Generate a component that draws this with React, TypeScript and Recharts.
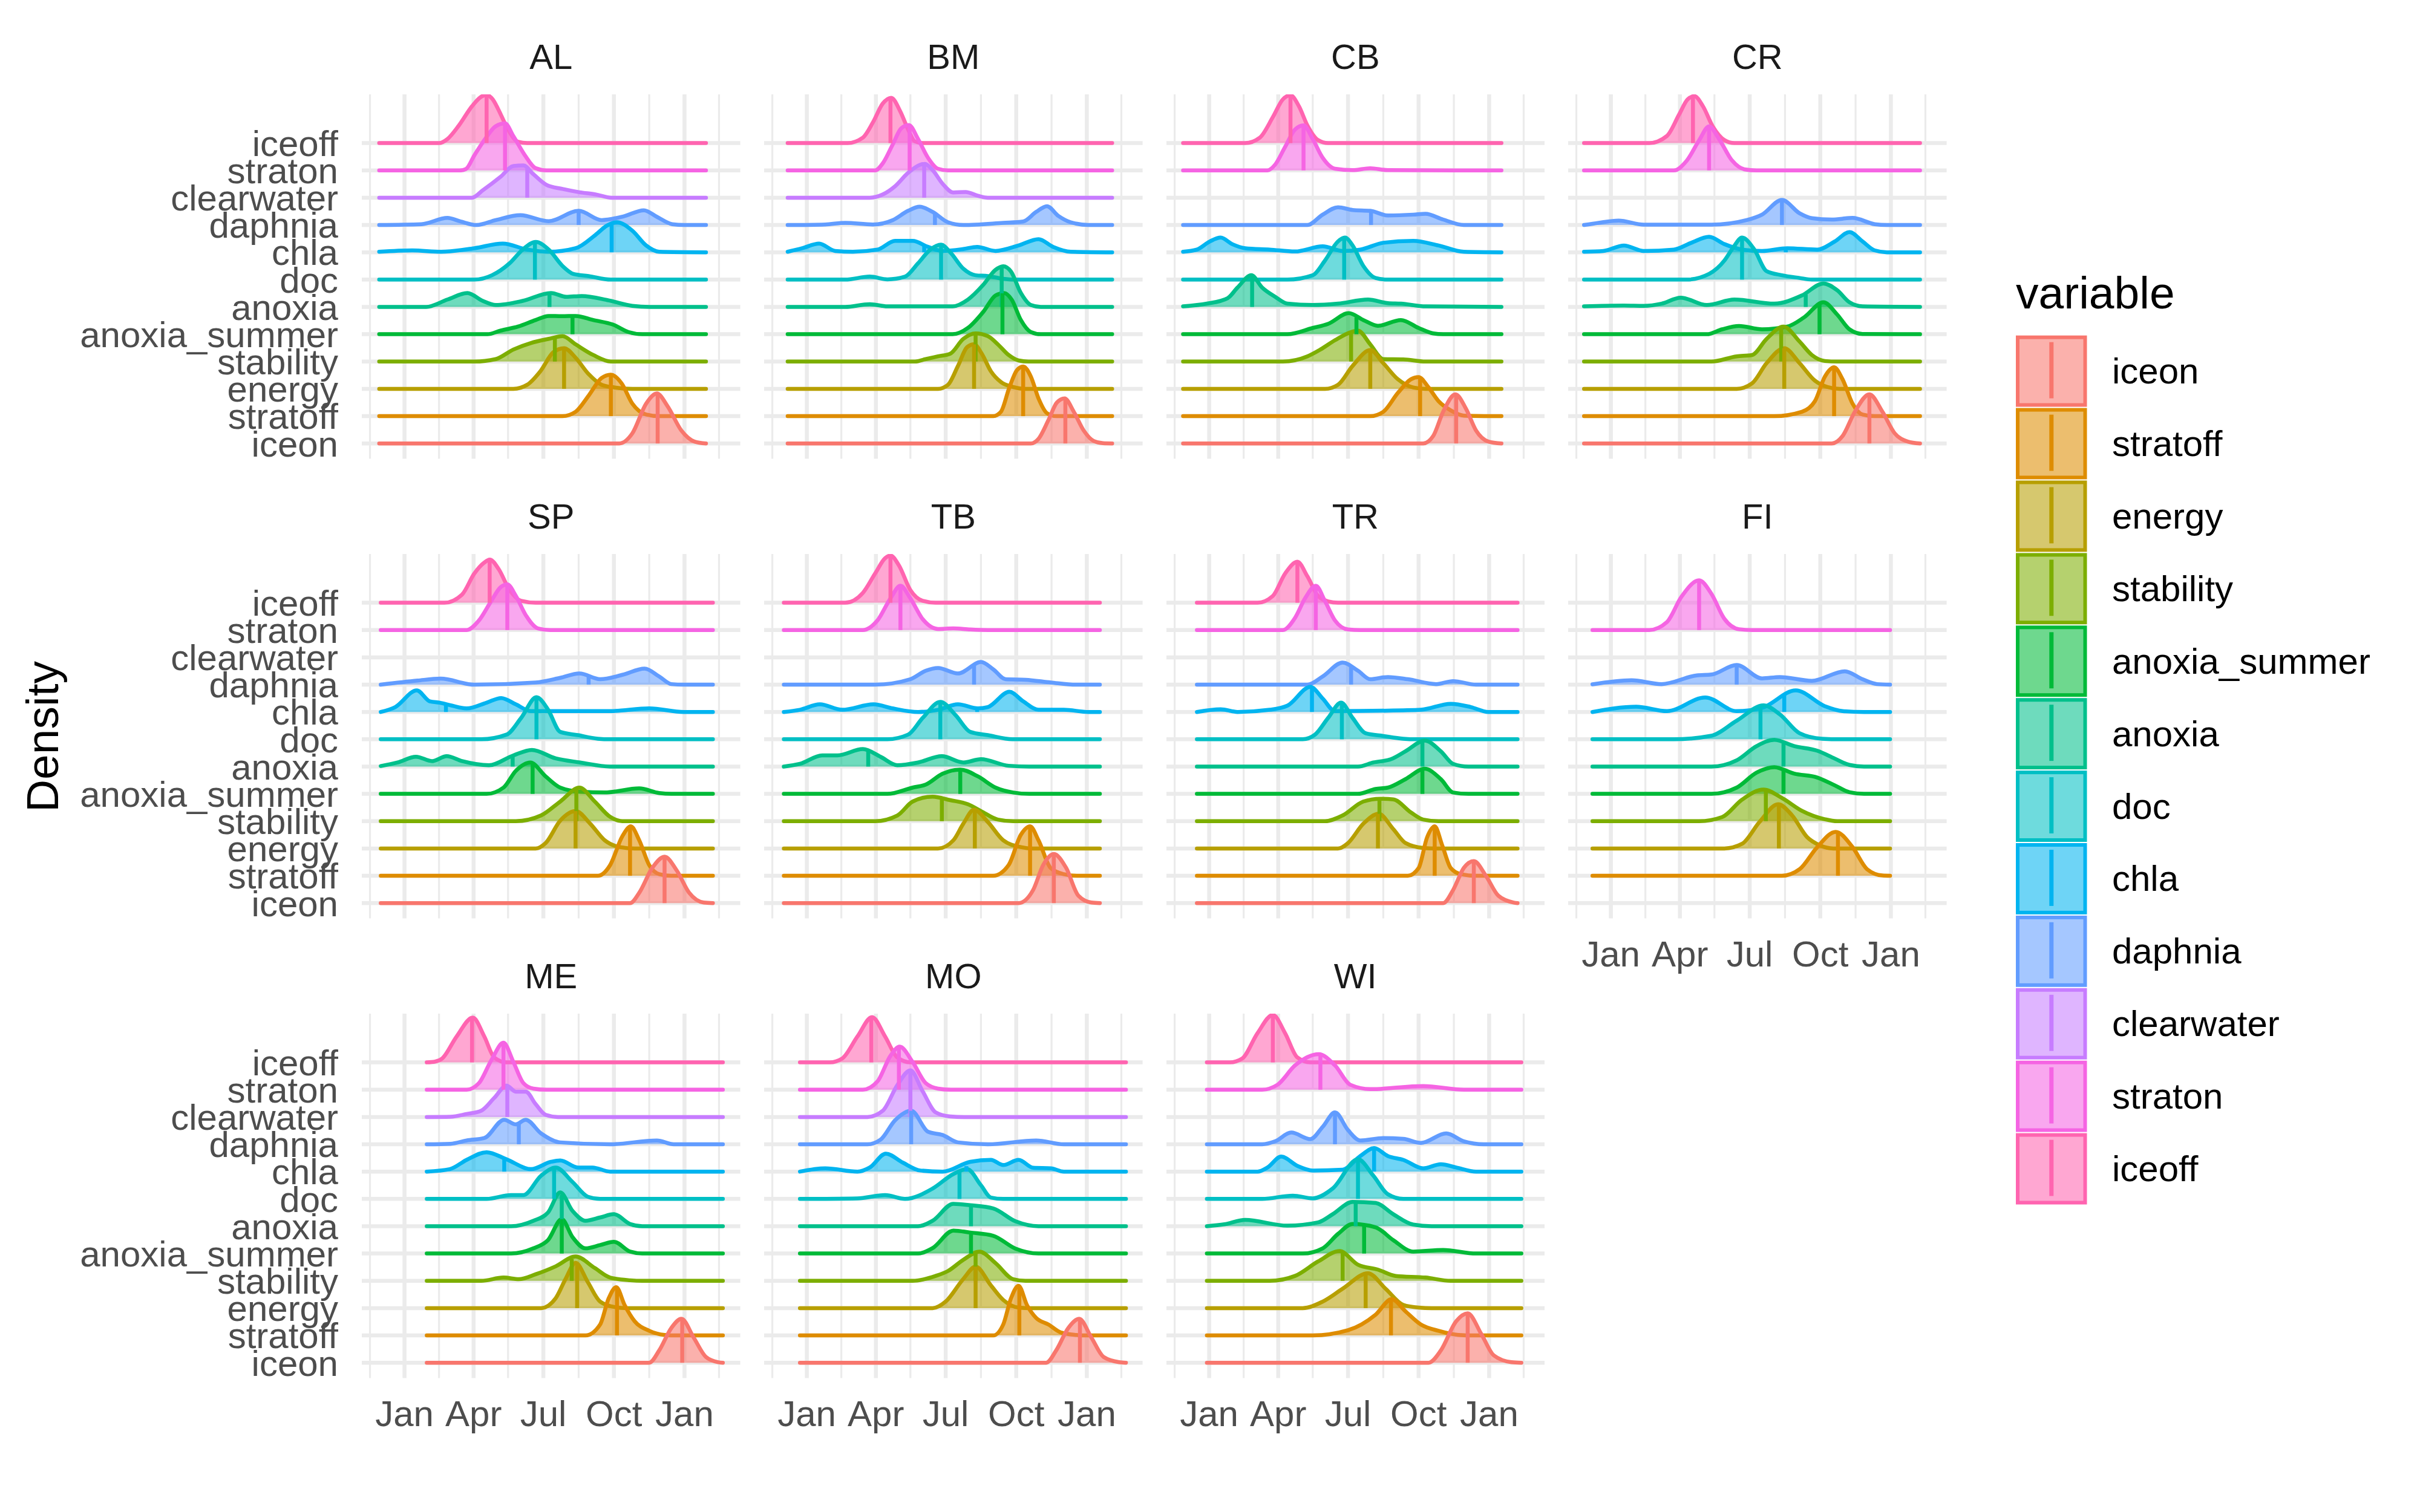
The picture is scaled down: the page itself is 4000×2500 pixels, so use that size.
import { Area, CartesianGrid, ComposedChart, ReferenceLine, XAxis, YAxis } from 'recharts';

type Pts = number[][];
type Ridges = Record<string, Pts>;
type Medians = Record<string, number[]>;

const FONT = '"Liberation Sans", Arial, Helvetica, sans-serif';

// bottom to top, same order as the legend
const VARIABLES = ['iceon', 'stratoff', 'energy', 'stability', 'anoxia_summer', 'anoxia', 'doc', 'chla', 'daphnia', 'clearwater', 'straton', 'iceoff'];
const COLORS = ['#F8766D', '#DE8C00', '#B79F00', '#7CAE00', '#00BA38', '#00C08B', '#00BFC4', '#00B4F0', '#619CFF', '#C77CFF', '#F564E3', '#FF64B0'];
const MONTH_TICKS = [0, 90, 181, 273, 365];
const MONTH_LABELS = ['Jan', 'Apr', 'Jul', 'Oct', 'Jan'];
const MINOR_TICKS = [-45, 45, 135, 227, 319, 410];
const ROW_TICKS = [1, 2, 3, 4, 5, 6, 7, 8, 9, 10, 11, 12];

// ridge points: [day of year, density height in row units]
const AL: Ridges = {
  iceoff: [[-33, 0], [45, 0], [56, 0.15], [71, 0.65], [88, 1.35], [100, 1.7], [107, 1.76], [115, 1.6], [122, 1.25], [134, 0.55], [148, 0.05], [160, 0], [393, 0]],
  straton: [[-33, 0], [72, 0], [80, 0.05], [91, 0.55], [105, 1.15], [119, 1.62], [131, 1.72], [142, 1.25], [157, 0.55], [171, 0.08], [185, 0], [393, 0]],
  clearwater: [[-33, 0], [88, 0], [102, 0.27], [125, 0.76], [142, 1.16], [155, 1.18], [168, 0.86], [185, 0.47], [206, 0.32], [228, 0.2], [249, 0.12], [270, 0], [393, 0]],
  daphnia: [[-33, 0], [22, 0.03], [56, 0.26], [73, 0.13], [94, 0], [119, 0.18], [151, 0.36], [188, 0.14], [227, 0.52], [257, 0.18], [286, 0.32], [312, 0.54], [329, 0.3], [349, 0.03], [365, 0], [393, 0]],
  chla: [[-33, 0.02], [10, 0.07], [48, 0.02], [91, 0.15], [128, 0.32], [160, 0.1], [188, 0.02], [223, 0.15], [249, 0.64], [264, 0.98], [277, 1.1], [297, 0.79], [315, 0.25], [332, 0.02], [393, 0]],
  doc: [[-33, 0], [91, 0], [114, 0.16], [137, 0.6], [154, 1.1], [171, 1.38], [188, 1.1], [206, 0.5], [220, 0.21], [240, 0.13], [269, 0], [393, 0]],
  anoxia: [[-33, 0], [28, 0], [56, 0.27], [82, 0.51], [102, 0.22], [119, 0.07], [154, 0.22], [191, 0.51], [211, 0.37], [231, 0.4], [266, 0.24], [297, 0.04], [320, 0], [393, 0]],
  anoxia_summer: [[-33, 0], [108, 0], [125, 0.13], [148, 0.28], [171, 0.52], [188, 0.67], [205, 0.66], [223, 0.67], [246, 0.52], [272, 0.35], [292, 0.08], [310, 0], [393, 0]],
  stability: [[-33, 0], [91, 0], [119, 0.09], [142, 0.44], [165, 0.68], [188, 0.83], [206, 0.93], [223, 0.63], [246, 0.24], [269, 0], [393, 0]],
  energy: [[-33, 0], [142, 0], [160, 0.15], [177, 0.64], [194, 1.34], [208, 1.49], [223, 1.14], [240, 0.54], [257, 0.15], [274, 0.05], [297, 0], [393, 0]],
  stratoff: [[-33, 0], [206, 0], [223, 0.16], [240, 0.75], [257, 1.4], [269, 1.52], [283, 1.2], [297, 0.46], [315, 0.06], [332, 0], [393, 0]],
  iceon: [[-33, 0], [280, 0], [297, 0.37], [315, 1.46], [329, 1.83], [343, 1.36], [361, 0.47], [378, 0.07], [393, 0]],
};
const AL_MED: Medians = {
  iceoff: [107, 1.76], straton: [131, 1.72], clearwater: [160, 1.06], daphnia: [227, 0.52], chla: [270, 1.05], doc: [170, 1.37],
  anoxia: [189, 0.5], anoxia_summer: [219, 0.67], stability: [196, 0.88], energy: [208, 1.49], stratoff: [269, 1.52], iceon: [330, 1.82],
};

const BM: Ridges = {
  iceoff: [[-25, 0], [53, 0], [73, 0.2], [86, 0.75], [99, 1.45], [110, 1.66], [122, 1.15], [132, 0.5], [141, 0.06], [151, 0], [398, 0]],
  straton: [[-25, 0], [89, 0], [99, 0.26], [112, 0.95], [123, 1.54], [133, 1.66], [145, 1.15], [158, 0.46], [171, 0.06], [184, 0], [398, 0]],
  clearwater: [[-25, 0], [82, 0], [99, 0.12], [115, 0.42], [132, 0.91], [148, 1.21], [154, 1.24], [164, 1.01], [177, 0.51], [191, 0.19], [207, 0.21], [223, 0.07], [236, 0], [398, 0]],
  daphnia: [[-25, 0], [24, 0.02], [50, 0.08], [86, 0.02], [112, 0.18], [132, 0.52], [147, 0.67], [164, 0.48], [184, 0.1], [204, 0], [256, 0.08], [282, 0.13], [299, 0.48], [313, 0.69], [328, 0.33], [344, 0.1], [367, 0], [398, 0]],
  chla: [[-25, 0.02], [-6, 0.15], [16, 0.32], [37, 0.05], [60, 0.02], [92, 0.1], [115, 0.42], [138, 0.42], [158, 0.2], [177, 0.05], [204, 0.12], [222, 0.2], [246, 0.05], [276, 0.25], [302, 0.48], [321, 0.2], [344, 0.02], [398, 0]],
  doc: [[-25, 0], [50, 0], [82, 0.11], [105, 0.01], [128, 0.11], [145, 0.6], [161, 1.1], [175, 1.28], [187, 1.0], [204, 0.4], [220, 0.16], [236, 0.13], [256, 0.03], [270, 0], [398, 0]],
  anoxia: [[-25, 0], [50, 0], [82, 0.1], [105, 0.02], [190, 0.02], [210, 0.27], [230, 0.81], [246, 1.36], [256, 1.49], [266, 1.3], [279, 0.51], [292, 0.07], [305, 0], [398, 0]],
  anoxia_summer: [[-25, 0], [190, 0], [210, 0.23], [230, 0.82], [246, 1.42], [257, 1.51], [267, 1.27], [279, 0.52], [292, 0.08], [305, 0], [398, 0]],
  stability: [[-25, 0], [141, 0], [155, 0.09], [171, 0.19], [187, 0.29], [204, 0.83], [220, 1.03], [236, 0.93], [249, 0.63], [263, 0.24], [276, 0.04], [289, 0], [398, 0]],
  energy: [[-25, 0], [171, 0], [184, 0.15], [197, 0.84], [209, 1.53], [218, 1.63], [228, 1.29], [240, 0.64], [253, 0.25], [269, 0.07], [285, 0], [398, 0]],
  stratoff: [[-25, 0], [243, 0], [253, 0.16], [264, 1.05], [274, 1.69], [282, 1.82], [292, 1.45], [302, 0.65], [313, 0.11], [325, 0], [398, 0]],
  iceon: [[-25, 0], [292, 0], [302, 0.17], [315, 0.86], [326, 1.5], [336, 1.65], [348, 1.16], [361, 0.47], [374, 0.09], [386, 0.01], [398, 0]],
};
const BM_MED: Medians = {
  iceoff: [109, 1.66], straton: [134, 1.65], clearwater: [153, 1.24], daphnia: [167, 0.42], chla: [153, 0.25], doc: [175, 1.28],
  anoxia: [254, 1.47], anoxia_summer: [255, 1.5], stability: [220, 1.03], energy: [218, 1.63], stratoff: [282, 1.82], iceon: [337, 1.64],
};

const CB: Ridges = {
  iceoff: [[-34, 0], [47, 0], [66, 0.2], [83, 0.95], [96, 1.6], [106, 1.75], [117, 1.35], [128, 0.65], [142, 0.11], [155, 0], [381, 0]],
  straton: [[-34, 0], [76, 0], [86, 0.21], [99, 0.86], [112, 1.5], [123, 1.65], [135, 1.15], [148, 0.46], [164, 0.06], [187, 0.01], [210, 0.08], [233, 0.01], [381, 0]],
  daphnia: [[-34, 0], [128, 0], [148, 0.38], [168, 0.65], [187, 0.55], [210, 0.52], [233, 0.35], [266, 0.38], [282, 0.41], [305, 0.2], [332, 0], [381, 0]],
  chla: [[-34, 0.02], [-16, 0.1], [1, 0.4], [15, 0.54], [30, 0.3], [47, 0.15], [79, 0.1], [112, 0.03], [148, 0.22], [174, 0.05], [197, 0.1], [227, 0.35], [266, 0.42], [299, 0.25], [332, 0.02], [381, 0]],
  doc: [[-34, 0], [102, 0], [135, 0.16], [151, 0.7], [168, 1.4], [177, 1.54], [187, 1.25], [201, 0.5], [217, 0.06], [233, 0], [381, 0]],
  anoxia: [[-34, 0.02], [-3, 0.12], [24, 0.32], [37, 0.71], [55, 1.16], [69, 0.71], [86, 0.37], [102, 0.12], [135, 0.07], [168, 0.12], [207, 0.27], [233, 0.14], [250, 0.12], [282, 0.02], [381, 0]],
  anoxia_summer: [[-34, 0], [102, 0], [135, 0.23], [155, 0.38], [182, 0.77], [201, 0.52], [220, 0.31], [250, 0.52], [273, 0.23], [292, 0.03], [305, 0], [381, 0]],
  stability: [[-34, 0], [96, 0], [128, 0.19], [145, 0.44], [164, 0.78], [185, 1.08], [194, 1.13], [210, 0.63], [227, 0.09], [253, 0.08], [282, 0], [381, 0]],
  energy: [[-34, 0], [151, 0], [168, 0.15], [187, 0.84], [210, 1.42], [227, 0.94], [246, 0.35], [266, 0.05], [282, 0], [381, 0]],
  stratoff: [[-34, 0], [210, 0], [227, 0.16], [246, 0.85], [263, 1.35], [273, 1.43], [286, 1.05], [299, 0.55], [315, 0.21], [332, 0.02], [381, 0]],
  iceon: [[-34, 0], [279, 0], [292, 0.27], [305, 1.16], [321, 1.8], [335, 1.26], [348, 0.47], [364, 0.07], [381, 0]],
};
const CB_MED: Medians = {
  iceoff: [106, 1.75], straton: [123, 1.65], daphnia: [211, 0.5], chla: [175, 0.05], doc: [176, 1.53], anoxia: [56, 1.15],
  anoxia_summer: [192, 0.62], stability: [185, 1.08], energy: [210, 1.42], stratoff: [275, 1.4], iceon: [322, 1.79],
};

const CR: Ridges = {
  iceoff: [[-35, 0], [50, 0], [73, 0.26], [89, 1.05], [100, 1.6], [109, 1.72], [120, 1.35], [133, 0.6], [148, 0.11], [161, 0], [403, 0]],
  straton: [[-35, 0], [82, 0], [99, 0.36], [115, 1.1], [128, 1.61], [141, 1.15], [158, 0.36], [174, 0.04], [190, 0], [403, 0]],
  daphnia: [[-35, 0], [-16, 0.08], [10, 0.16], [43, 0.01], [131, 0.01], [177, 0.18], [197, 0.38], [223, 0.92], [246, 0.43], [262, 0.25], [288, 0.2], [315, 0.26], [344, 0.03], [360, 0], [403, 0]],
  chla: [[-35, 0.02], [-10, 0.05], [17, 0.25], [43, 0.05], [82, 0.1], [105, 0.35], [128, 0.57], [148, 0.3], [171, 0.1], [197, 0.05], [230, 0.15], [269, 0.1], [292, 0.4], [311, 0.74], [328, 0.4], [344, 0.07], [360, 0], [403, 0]],
  doc: [[-35, 0], [99, 0], [128, 0.21], [148, 0.7], [160, 1.2], [171, 1.54], [187, 1.1], [203, 0.31], [223, 0.16], [246, 0.06], [262, 0], [403, 0]],
  anoxia: [[-35, 0.02], [17, 0.05], [43, 0.04], [66, 0.12], [91, 0.34], [125, 0.07], [161, 0.27], [213, 0.12], [249, 0.42], [277, 0.86], [295, 0.61], [311, 0.17], [328, 0.02], [403, 0]],
  anoxia_summer: [[-35, 0], [125, 0], [145, 0.18], [167, 0.3], [197, 0.18], [230, 0.28], [252, 0.62], [277, 1.17], [295, 0.72], [311, 0.18], [328, 0.01], [403, 0]],
  stability: [[-35, 0], [131, 0], [164, 0.19], [184, 0.24], [203, 0.83], [225, 1.28], [246, 0.73], [262, 0.24], [279, 0.02], [295, 0], [403, 0]],
  energy: [[-35, 0], [164, 0], [184, 0.2], [203, 0.94], [226, 1.49], [246, 0.94], [266, 0.3], [282, 0.07], [298, 0], [403, 0]],
  stratoff: [[-35, 0], [213, 0], [249, 0.16], [266, 0.55], [279, 1.45], [291, 1.79], [302, 1.35], [315, 0.46], [328, 0.06], [344, 0], [403, 0]],
  iceon: [[-35, 0], [288, 0], [302, 0.27], [318, 1.16], [337, 1.8], [354, 1.16], [370, 0.37], [387, 0.07], [403, 0]],
};
const CR_MED: Medians = {
  iceoff: [107, 1.7], straton: [128, 1.61], daphnia: [223, 0.92], chla: [228, 0.15], doc: [171, 1.54], anoxia: [254, 0.46],
  anoxia_summer: [272, 1.1], stability: [222, 1.26], energy: [226, 1.49], stratoff: [291, 1.79], iceon: [337, 1.8],
};

const SP: Ridges = {
  iceoff: [[-31, 0], [52, 0], [75, 0.3], [91, 1.07], [104, 1.47], [111, 1.58], [123, 1.22], [136, 0.51], [152, 0.07], [171, 0], [402, 0]],
  straton: [[-31, 0], [81, 0], [97, 0.35], [113, 1.06], [125, 1.56], [134, 1.67], [145, 1.26], [158, 0.55], [174, 0.06], [190, 0], [402, 0]],
  daphnia: [[-31, 0], [17, 0.15], [47, 0.22], [91, 0], [171, 0.08], [203, 0.25], [228, 0.41], [255, 0.2], [284, 0.36], [313, 0.59], [332, 0.3], [348, 0.02], [364, 0], [402, 0]],
  chla: [[-31, 0], [-12, 0.18], [16, 0.79], [33, 0.39], [46, 0.34], [62, 0.23], [81, 0.13], [107, 0.34], [126, 0.51], [145, 0.28], [165, 0.03], [268, 0.03], [319, 0.13], [364, 0], [402, 0]],
  doc: [[-31, 0], [100, 0], [133, 0.17], [152, 0.78], [172, 1.54], [187, 1.09], [203, 0.27], [226, 0.15], [252, 0.02], [268, 0], [402, 0]],
  anoxia: [[-31, 0.02], [-9, 0.15], [15, 0.36], [36, 0.2], [55, 0.38], [75, 0.2], [110, 0.05], [142, 0.41], [166, 0.61], [197, 0.3], [229, 0.15], [268, 0], [402, 0]],
  anoxia_summer: [[-31, 0], [107, 0], [129, 0.23], [145, 0.84], [164, 1.15], [184, 0.64], [203, 0.23], [229, 0.08], [261, 0.05], [306, 0.2], [332, 0.03], [348, 0], [402, 0]],
  stability: [[-31, 0], [145, 0], [178, 0.21], [203, 0.72], [228, 1.23], [248, 0.72], [268, 0.16], [284, 0], [402, 0]],
  energy: [[-31, 0], [171, 0], [184, 0.2], [203, 1.02], [223, 1.37], [242, 0.91], [261, 0.3], [281, 0.05], [300, 0], [402, 0]],
  stratoff: [[-31, 0], [252, 0], [268, 0.39], [284, 1.45], [295, 1.81], [306, 1.3], [319, 0.39], [332, 0.06], [348, 0], [402, 0]],
  iceon: [[-31, 0], [294, 0], [306, 0.38], [323, 1.29], [339, 1.7], [355, 1.19], [371, 0.38], [390, 0.02], [402, 0]],
};
const SP_MED: Medians = {
  iceoff: [111, 1.58], straton: [134, 1.67], daphnia: [240, 0.3], chla: [54, 0.3], doc: [172, 1.54], anoxia: [141, 0.4],
  anoxia_summer: [167, 1.12], stability: [224, 1.2], energy: [223, 1.37], stratoff: [294, 1.8], iceon: [339, 1.7],
};

const TB: Ridges = {
  iceoff: [[-30, 0], [50, 0], [73, 0.36], [89, 1.07], [102, 1.63], [109, 1.73], [120, 1.37], [135, 0.46], [151, 0.07], [168, 0], [382, 0]],
  straton: [[-30, 0], [73, 0], [92, 0.35], [109, 1.16], [122, 1.62], [135, 1.16], [151, 0.4], [171, 0.04], [191, 0.06], [213, 0.02], [236, 0], [382, 0]],
  daphnia: [[-30, 0], [89, 0], [135, 0.2], [155, 0.51], [171, 0.61], [197, 0.41], [227, 0.83], [243, 0.56], [259, 0.2], [285, 0.18], [318, 0.08], [351, 0], [382, 0]],
  chla: [[-30, 0], [-9, 0.08], [17, 0.28], [46, 0.08], [87, 0.28], [112, 0.13], [145, 0], [171, 0.08], [197, 0.28], [223, 0.13], [236, 0.18], [264, 0.74], [282, 0.39], [302, 0.08], [335, 0.08], [367, 0], [382, 0]],
  doc: [[-30, 0], [105, 0], [132, 0.17], [151, 0.78], [174, 1.37], [194, 0.88], [213, 0.27], [236, 0.15], [268, 0], [382, 0]],
  anoxia: [[-30, 0], [-9, 0.1], [20, 0.41], [40, 0.41], [73, 0.64], [96, 0.36], [118, 0.05], [145, 0.15], [176, 0.38], [204, 0.15], [227, 0.27], [263, 0.03], [290, 0], [382, 0]],
  anoxia_summer: [[-30, 0], [105, 0], [138, 0.23], [155, 0.34], [177, 0.74], [200, 0.89], [223, 0.64], [246, 0.23], [269, 0.05], [290, 0], [382, 0]],
  stability: [[-30, 0], [89, 0], [118, 0.21], [138, 0.72], [164, 0.9], [187, 0.77], [210, 0.62], [227, 0.37], [249, 0.06], [269, 0], [382, 0]],
  energy: [[-30, 0], [171, 0], [191, 0.3], [204, 0.91], [218, 1.42], [236, 0.97], [256, 0.3], [279, 0.05], [295, 0], [382, 0]],
  stratoff: [[-30, 0], [243, 0], [263, 0.39], [279, 1.5], [291, 1.81], [302, 1.3], [318, 0.28], [335, 0.06], [352, 0], [382, 0]],
  iceon: [[-30, 0], [276, 0], [295, 0.48], [308, 1.39], [322, 1.8], [338, 1.29], [354, 0.27], [371, 0.02], [382, 0]],
};
const TB_MED: Medians = {
  iceoff: [109, 1.73], straton: [122, 1.62], daphnia: [218, 0.75], chla: [222, 0.13], doc: [174, 1.37], anoxia: [80, 0.58],
  anoxia_summer: [200, 0.89], stability: [176, 0.83], energy: [219, 1.42], stratoff: [291, 1.81], iceon: [322, 1.8],
};

const TR: Ridges = {
  iceoff: [[-16, 0], [63, 0], [83, 0.25], [99, 1.07], [115, 1.5], [128, 0.97], [142, 0.25], [155, 0.05], [168, 0], [402, 0]],
  straton: [[-16, 0], [96, 0], [112, 0.45], [125, 1.16], [139, 1.62], [151, 1.06], [164, 0.35], [181, 0.02], [197, 0], [402, 0]],
  daphnia: [[-16, 0], [128, 0], [148, 0.3], [174, 0.81], [194, 0.51], [210, 0.2], [233, 0.28], [259, 0.2], [296, 0.02], [318, 0.13], [348, 0], [402, 0]],
  chla: [[-16, 0], [15, 0.1], [37, 0], [79, 0.08], [102, 0.23], [132, 0.92], [148, 0.49], [164, 0.03], [253, 0.06], [276, 0.08], [315, 0.3], [341, 0.18], [364, 0], [402, 0]],
  doc: [[-16, 0], [122, 0], [138, 0.17], [155, 0.78], [172, 1.34], [187, 0.78], [204, 0.22], [227, 0.12], [253, 0.02], [270, 0], [402, 0]],
  anoxia: [[-16, 0], [194, 0], [214, 0.15], [237, 0.27], [256, 0.56], [281, 0.95], [302, 0.56], [318, 0.1], [338, 0], [402, 0]],
  anoxia_summer: [[-16, 0], [194, 0], [217, 0.18], [233, 0.23], [256, 0.54], [281, 0.92], [302, 0.54], [318, 0.05], [338, 0], [402, 0]],
  stability: [[-16, 0], [151, 0], [174, 0.21], [201, 0.72], [223, 0.82], [240, 0.8], [263, 0.32], [279, 0.06], [299, 0], [402, 0]],
  energy: [[-16, 0], [168, 0], [181, 0.2], [201, 0.91], [221, 1.27], [240, 0.71], [256, 0.2], [279, 0.02], [295, 0], [402, 0]],
  stratoff: [[-16, 0], [259, 0], [273, 0.28], [284, 1.4], [294, 1.81], [304, 1.1], [315, 0.28], [328, 0.06], [348, 0], [402, 0]],
  iceon: [[-16, 0], [305, 0], [318, 0.48], [332, 1.29], [345, 1.54], [361, 0.99], [377, 0.27], [397, 0.02], [402, 0]],
};
const TR_MED: Medians = {
  iceoff: [115, 1.5], straton: [139, 1.62], daphnia: [185, 0.65], chla: [134, 0.9], doc: [173, 1.32], anoxia: [278, 0.92],
  anoxia_summer: [278, 0.9], stability: [222, 0.82], energy: [220, 1.27], stratoff: [294, 1.81], iceon: [345, 1.54],
};

const FI: Ridges = {
  straton: [[-24, 0], [50, 0], [73, 0.29], [92, 1.22], [115, 1.82], [131, 1.33], [148, 0.41], [167, 0.03], [184, 0], [364, 0]],
  daphnia: [[-24, 0.01], [27, 0.16], [66, 0.02], [112, 0.34], [131, 0.37], [164, 0.72], [197, 0.23], [220, 0.28], [262, 0.14], [305, 0.49], [328, 0.2], [347, 0.02], [364, 0]],
  chla: [[-24, 0], [33, 0.19], [73, 0.03], [123, 0.53], [164, 0.03], [197, 0.15], [241, 0.79], [279, 0.21], [302, 0.03], [330, 0], [364, 0]],
  doc: [[-24, 0], [82, 0], [131, 0.13], [164, 0.68], [199, 1.24], [220, 0.92], [246, 0.22], [275, 0.02], [300, 0], [364, 0]],
  anoxia: [[-24, 0], [131, 0], [164, 0.23], [190, 0.75], [213, 0.98], [239, 0.75], [269, 0.58], [292, 0.29], [311, 0.06], [330, 0], [364, 0]],
  anoxia_summer: [[-24, 0], [131, 0], [164, 0.23], [190, 0.78], [213, 0.98], [239, 0.74], [269, 0.6], [292, 0.31], [311, 0.06], [330, 0], [364, 0]],
  stability: [[-24, 0], [115, 0], [145, 0.15], [171, 0.79], [199, 1.16], [223, 0.85], [249, 0.38], [279, 0.07], [295, 0], [364, 0]],
  energy: [[-24, 0], [148, 0], [171, 0.17], [194, 0.98], [218, 1.62], [236, 1.22], [256, 0.41], [272, 0.12], [290, 0], [364, 0]],
  stratoff: [[-24, 0], [223, 0], [246, 0.24], [269, 1.05], [293, 1.61], [315, 1.05], [334, 0.24], [354, 0.01], [364, 0]],
};
const FI_MED: Medians = {
  straton: [115, 1.82], daphnia: [164, 0.72], chla: [226, 0.6], doc: [195, 1.22], anoxia: [225, 0.85],
  anoxia_summer: [225, 0.85], stability: [202, 1.14], energy: [219, 1.62], stratoff: [296, 1.6],
};

const ME: Ridges = {
  iceoff: [[29, 0], [40, 0.03], [49, 0.14], [68, 0.95], [89, 1.64], [104, 0.95], [117, 0.18], [133, 0], [415, 0]],
  straton: [[29, 0], [81, 0], [97, 0.24], [113, 1.07], [129, 1.72], [142, 1.01], [155, 0.24], [168, 0.04], [185, 0], [415, 0]],
  clearwater: [[29, 0], [60, 0.01], [81, 0.11], [100, 0.23], [117, 0.7], [133, 1.15], [145, 0.93], [158, 0.93], [171, 0.47], [184, 0.08], [200, 0], [415, 0]],
  daphnia: [[29, 0], [60, 0.02], [81, 0.14], [104, 0.23], [130, 0.9], [145, 0.73], [158, 0.9], [178, 0.4], [203, 0.07], [268, 0], [329, 0.14], [351, 0], [415, 0]],
  chla: [[29, 0], [59, 0.09], [81, 0.43], [107, 0.71], [133, 0.45], [165, 0.09], [191, 0.36], [203, 0.41], [226, 0.15], [245, 0.15], [268, 0], [415, 0]],
  doc: [[29, 0], [107, 0], [139, 0.14], [155, 0.14], [178, 0.85], [197, 1.15], [219, 0.62], [239, 0.08], [255, 0], [415, 0]],
  anoxia: [[29, 0], [139, 0], [168, 0.2], [187, 0.5], [203, 1.24], [219, 0.56], [236, 0.2], [255, 0.32], [273, 0.44], [294, 0.08], [310, 0], [415, 0]],
  anoxia_summer: [[29, 0], [139, 0], [168, 0.19], [187, 0.49], [205, 1.26], [219, 0.6], [236, 0.19], [255, 0.31], [273, 0.43], [294, 0.07], [310, 0], [415, 0]],
  stability: [[29, 0], [100, 0], [129, 0.12], [149, 0.06], [171, 0.24], [197, 0.53], [223, 0.89], [248, 0.47], [268, 0.12], [294, 0.02], [310, 0], [415, 0]],
  energy: [[29, 0], [178, 0], [197, 0.36], [210, 1.07], [223, 1.66], [239, 0.95], [255, 0.24], [274, 0.04], [290, 0], [415, 0]],
  stratoff: [[29, 0], [236, 0], [255, 0.4], [266, 1.35], [276, 1.77], [287, 1.11], [300, 0.52], [319, 0.17], [339, 0.02], [355, 0], [415, 0]],
  iceon: [[29, 0], [319, 0], [332, 0.45], [348, 1.28], [361, 1.61], [377, 0.92], [393, 0.21], [409, 0.02], [415, 0]],
};
const ME_MED: Medians = {
  iceoff: [88, 1.64], straton: [129, 1.72], clearwater: [134, 1.14], daphnia: [149, 0.78], chla: [130, 0.48], doc: [195, 1.15],
  anoxia: [205, 1.15], anoxia_summer: [205, 1.26], stability: [218, 0.8], energy: [225, 1.62], stratoff: [277, 1.76], iceon: [362, 1.61],
};

const MO: Ridges = {
  iceoff: [[-9, 0], [30, 0], [46, 0.14], [66, 0.95], [85, 1.66], [102, 0.95], [118, 0.18], [135, 0], [416, 0]],
  straton: [[-9, 0], [73, 0], [92, 0.3], [109, 1.24], [121, 1.58], [138, 1.01], [155, 0.24], [171, 0.04], [188, 0], [416, 0]],
  clearwater: [[-9, 0], [79, 0], [99, 0.23], [118, 1.17], [135, 1.71], [151, 0.94], [168, 0.17], [187, 0.02], [205, 0], [416, 0]],
  daphnia: [[-9, 0], [79, 0], [96, 0.17], [115, 0.88], [136, 1.23], [158, 0.46], [177, 0.34], [197, 0.07], [236, 0], [299, 0.14], [335, 0], [416, 0]],
  chla: [[-9, 0], [24, 0.12], [66, 0], [82, 0.15], [103, 0.66], [125, 0.33], [148, 0.04], [177, 0], [213, 0.36], [240, 0.43], [256, 0.24], [276, 0.43], [295, 0.14], [318, 0.12], [335, 0], [416, 0]],
  doc: [[-9, 0], [66, 0.02], [102, 0.14], [128, 0], [164, 0.38], [191, 0.91], [209, 1.09], [227, 0.5], [240, 0.05], [256, 0], [416, 0]],
  anoxia: [[-9, 0], [145, 0], [164, 0.2], [191, 0.82], [213, 0.77], [243, 0.65], [272, 0.18], [302, 0], [416, 0]],
  anoxia_summer: [[-9, 0], [145, 0], [164, 0.2], [191, 0.84], [213, 0.77], [243, 0.65], [272, 0.18], [302, 0], [416, 0]],
  stability: [[-9, 0], [138, 0], [168, 0.18], [184, 0.36], [204, 0.77], [225, 1.07], [246, 0.65], [269, 0.06], [285, 0], [416, 0]],
  energy: [[-9, 0], [164, 0], [181, 0.24], [204, 1.07], [220, 1.52], [240, 0.83], [256, 0.3], [276, 0.02], [292, 0], [416, 0]],
  stratoff: [[-9, 0], [243, 0], [256, 0.4], [266, 1.35], [276, 1.82], [287, 1.11], [299, 0.64], [315, 0.4], [331, 0.11], [351, 0.02], [365, 0], [416, 0]],
  iceon: [[-9, 0], [312, 0], [325, 0.45], [341, 1.28], [355, 1.61], [371, 0.92], [387, 0.21], [407, 0.02], [416, 0]],
};
const MO_MED: Medians = {
  iceoff: [84, 1.65], straton: [120, 1.57], clearwater: [135, 1.71], daphnia: [136, 1.23], chla: [208, 0.2], doc: [199, 1.02],
  anoxia: [214, 0.77], anoxia_summer: [214, 0.77], stability: [220, 1.05], energy: [220, 1.52], stratoff: [277, 1.8], iceon: [356, 1.6],
};

const WI: Ridges = {
  iceoff: [[-3, 0], [27, 0], [43, 0.14], [63, 1.07], [83, 1.74], [99, 1.07], [115, 0.18], [132, 0], [407, 0]],
  straton: [[-3, 0], [69, 0], [89, 0.18], [112, 0.89], [143, 1.3], [164, 0.89], [184, 0.18], [210, 0.02], [279, 0.13], [332, 0], [407, 0]],
  daphnia: [[-3, 0], [69, 0], [86, 0.11], [107, 0.43], [132, 0.19], [148, 0.64], [164, 1.17], [181, 0.52], [197, 0.14], [227, 0.23], [253, 0.2], [276, 0.05], [309, 0.4], [332, 0.11], [358, 0], [407, 0]],
  chla: [[-3, 0], [63, 0], [76, 0.15], [94, 0.55], [115, 0.21], [135, 0.04], [174, 0.07], [197, 0.57], [215, 0.86], [233, 0.57], [253, 0.43], [279, 0.12], [302, 0.27], [322, 0.15], [348, 0], [407, 0]],
  doc: [[-3, 0], [69, 0], [109, 0.12], [135, 0.02], [161, 0.38], [194, 1.45], [214, 0.85], [233, 0.17], [253, 0], [407, 0]],
  anoxia: [[-3, 0], [20, 0.07], [47, 0.23], [102, 0.02], [142, 0.14], [161, 0.44], [187, 0.89], [217, 0.85], [240, 0.44], [266, 0.06], [290, 0], [407, 0]],
  anoxia_summer: [[-3, 0], [122, 0], [148, 0.19], [168, 0.72], [187, 1.08], [217, 0.96], [240, 0.49], [266, 0.07], [305, 0.13], [348, 0], [407, 0]],
  stability: [[-3, 0], [79, 0], [112, 0.18], [142, 0.71], [170, 1.09], [194, 0.59], [220, 0.41], [243, 0.18], [282, 0.12], [315, 0], [407, 0]],
  energy: [[-3, 0], [122, 0], [148, 0.24], [174, 0.71], [207, 1.28], [230, 0.71], [253, 0.12], [273, 0.02], [290, 0], [407, 0]],
  stratoff: [[-3, 0], [135, 0], [181, 0.19], [217, 0.76], [238, 1.33], [256, 0.88], [276, 0.4], [299, 0.17], [325, 0.02], [345, 0], [407, 0]],
  iceon: [[-3, 0], [286, 0], [302, 0.45], [322, 1.52], [337, 1.81], [355, 1.04], [371, 0.27], [394, 0.02], [407, 0]],
};
const WI_MED: Medians = {
  iceoff: [83, 1.74], straton: [145, 1.28], daphnia: [164, 1.17], chla: [215, 0.86], doc: [194, 1.45], anoxia: [191, 0.88],
  anoxia_summer: [202, 1.02], stability: [174, 1.07], energy: [204, 1.26], stratoff: [237, 1.33], iceon: [337, 1.81],
};

const PANELS = [
  { name: 'AL', ridges: AL, med: AL_MED, row: 0, col: 0 },
  { name: 'BM', ridges: BM, med: BM_MED, row: 0, col: 1 },
  { name: 'CB', ridges: CB, med: CB_MED, row: 0, col: 2 },
  { name: 'CR', ridges: CR, med: CR_MED, row: 0, col: 3 },
  { name: 'SP', ridges: SP, med: SP_MED, row: 1, col: 0 },
  { name: 'TB', ridges: TB, med: TB_MED, row: 1, col: 1 },
  { name: 'TR', ridges: TR, med: TR_MED, row: 1, col: 2 },
  { name: 'FI', ridges: FI, med: FI_MED, row: 1, col: 3 },
  { name: 'ME', ridges: ME, med: ME_MED, row: 2, col: 0 },
  { name: 'MO', ridges: MO, med: MO_MED, row: 2, col: 1 },
  { name: 'WI', ridges: WI, med: WI_MED, row: 2, col: 2 },
];

// layout (px)
const PANEL_LEFT = [598, 1263, 1927.5, 2592];
const PANEL_TOP = [156.2, 916.2, 1676.2];
const PW = 625.6;
const PH = 602.5;
const X_DOMAIN = [-55.7, 437.7];
const Y_DOMAIN = [0.44, 13.785];
const GRID = '#EBEBEB';
const LINE_W = 6.5;

function Panel({ name, ridges, med, row, col }: (typeof PANELS)[number]) {
  const showY = col === 0;
  const showX = row === 2 || (row === 1 && col === 3);
  const yw = showY ? 590 : 0;
  const xh = showX ? 110 : 0;
  const mb = showX ? 0 : 30; // room under the last row label
  const order = VARIABLES.map((v, i) => ({ v, i })).reverse();
  return (
    <>
      <div
        style={{
          position: 'absolute', left: PANEL_LEFT[col], top: PANEL_TOP[row] - 95, width: PW, textAlign: 'center',
          fontFamily: FONT, fontSize: 58, color: '#1A1A1A', lineHeight: '66px',
        }}
      >
        {name}
      </div>
      <div style={{ position: 'absolute', left: PANEL_LEFT[col] - yw, top: PANEL_TOP[row] }}>
        <ComposedChart width={yw + PW} height={PH + xh + mb} margin={{ top: 0, right: 0, bottom: mb, left: 0 }}>
          <CartesianGrid xAxisId="minor" horizontal={false} stroke={GRID} strokeWidth={3.2} syncWithTicks />
          <CartesianGrid stroke={GRID} strokeWidth={6.5} syncWithTicks />
          <XAxis
            dataKey="x"
            type="number"
            domain={X_DOMAIN}
            allowDataOverflow
            ticks={MONTH_TICKS}
            interval={0}
            tickFormatter={(v: number) => MONTH_LABELS[MONTH_TICKS.indexOf(v)] ?? ''}
            tick={{ fill: '#4D4D4D', fontSize: 60, fontFamily: FONT }}
            tickLine={false}
            axisLine={false}
            tickSize={0}
            tickMargin={37}
            height={xh}
            hide={!showX}
          />
          <XAxis xAxisId="minor" dataKey="x" type="number" domain={X_DOMAIN} allowDataOverflow ticks={MINOR_TICKS} interval={0} hide />
          <YAxis
            type="number"
            domain={Y_DOMAIN}
            allowDataOverflow
            ticks={ROW_TICKS}
            interval={0}
            tickFormatter={(v: number) => VARIABLES[v - 1]}
            tick={{ fill: '#4D4D4D', fontSize: 60, fontFamily: FONT }}
            tickLine={false}
            axisLine={false}
            tickSize={0}
            tickMargin={39}
            width={yw}
            hide={!showY}
          />
          {order.map(({ v, i }) =>
            ridges[v] ? (
              <Area
                key={v}
                data={ridges[v].map(([d, h]) => ({ x: d, y: i + 1 + h }))}
                dataKey="y"
                type="monotone"
                baseValue={i + 1}
                stroke={COLORS[i]}
                strokeWidth={LINE_W}
                strokeLinecap="round"
                strokeLinejoin="round"
                fill={COLORS[i]}
                fillOpacity={0.57}
                dot={false}
                activeDot={false}
                isAnimationActive={false}
              />
            ) : null,
          )}
          {order.map(({ v, i }) =>
            med[v] ? (
              <ReferenceLine
                key={`m-${v}`}
                segment={[{ x: med[v][0], y: i + 1 }, { x: med[v][0], y: i + 1 + med[v][1] }]}
                stroke={COLORS[i]}
                strokeWidth={LINE_W}
              />
            ) : null,
          )}
        </ComposedChart>
      </div>
    </>
  );
}

function LegendBox() {
  const keyTop = 554.7;
  const step = 119.9;
  return (
    <svg style={{ position: 'absolute', left: 0, top: 0 }} width={4000} height={2500}>
      <text x={70} y={1218} transform="rotate(-90 70 1218)" textAnchor="middle" dominantBaseline="central" fontFamily={FONT} fontSize={75} fill="#000">
        Density
      </text>
      <text x={3332} y={510} fontFamily={FONT} fontSize={75} fill="#000">variable</text>
      {VARIABLES.map((v, i) => {
        const y = keyTop + i * step;
        return (
          <g key={v}>
            <rect x={3335} y={y + 3} width={111.5} height={step - 8} fill={COLORS[i]} fillOpacity={0.57} stroke={COLORS[i]} strokeWidth={6} />
            <line x1={3390.8} x2={3390.8} y1={y + 11} y2={y + step - 16} stroke={COLORS[i]} strokeWidth={7} />
            <text x={3491} y={y + (step - 2) / 2} dominantBaseline="central" fontFamily={FONT} fontSize={60} fill="#000">
              {v}
            </text>
          </g>
        );
      })}
    </svg>
  );
}

export default function App() {
  return (
    <div style={{ position: 'absolute', left: 0, top: 0, width: 4000, height: 2500, background: '#fff', overflow: 'hidden' }}>
      <LegendBox />
      {PANELS.map((p) => (
        <Panel key={p.name} {...p} />
      ))}
    </div>
  );
}
